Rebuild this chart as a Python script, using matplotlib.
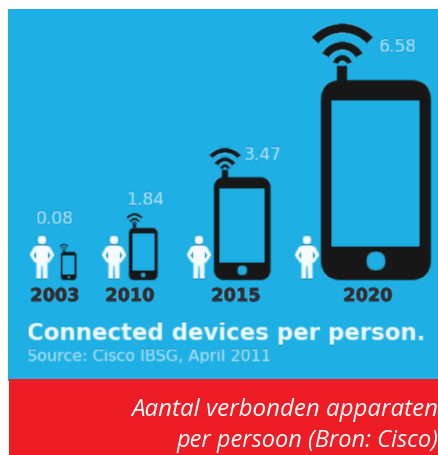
import numpy as np
import matplotlib
matplotlib.use("Agg")
import matplotlib.pyplot as plt
import matplotlib.patheffects as pe
from matplotlib.patches import Rectangle, FancyBboxPatch, Wedge, Circle, Polygon

# Connected devices per person (Cisco IBSG, April 2011)
years = ["2003", "2010", "2015", "2020"]
devices_per_person = [0.08, 1.84, 3.47, 6.58]

caption_lines = ["Aantal verbonden apparaten", "per persoon (Bron: Cisco)"]
title = "Connected devices per person."
source = "Source: Cisco IBSG, April 2011"

BLUE = "#1eb0e4"
BLACK = "#181718"
RED = "#ee1c25"
PALE = "#b4e2f4"
DARK = "#2e2f35"
WHITE_ISH = "#f6fcfe"

# Layout, in pixels
phone_left = [61, 129, 214, 321]
person_x = [42, 114, 199, 307]
year_x = [55, 130, 236, 368]
value_pos = [(55, 219), (145, 200), (263, 155), (398, 47)]
caption_sizes = [17.4, 17.0]
GROUND = 281


def soften(sigma):
    radius = int(3 * sigma) + 1
    k = np.exp(-0.5 * (np.arange(-radius, radius + 1) / sigma) ** 2)
    k /= k.sum()

    def blur(img, dpi):
        pad = radius + 1
        out = np.pad(img, ((pad, pad), (pad, pad), (0, 0)))
        for axis in (0, 1):
            out = np.apply_along_axis(lambda v: np.convolve(v, k, mode="same"), axis, out)
        return out, -pad, -pad

    return blur


fig = plt.figure(figsize=(4.39, 4.56), dpi=100, facecolor="white")
ax = fig.add_axes([0, 0, 1, 1])
ax.set_xlim(0, 439)
ax.set_ylim(456, 0)
ax.axis("off")

ax.add_patch(Rectangle((8, 10), 431, 372, color=BLUE, lw=0, zorder=1))
ax.add_patch(Rectangle((9, 380), 430, 76, color=RED, lw=0, zorder=2))


def phone_height(value):
    return max(28, 31.2 * value - 5.5)


def add(artist, sigma=0.7):
    ax.add_patch(artist)
    artist.set_agg_filter(soften(sigma))


def draw_phone(left, value):
    h = phone_height(value)
    w = 0.55 * h
    top = GROUND - h
    r = 0.18 * w
    add(FancyBboxPatch((left + r, top + r), w - 2 * r, h - 2 * r,
                       boxstyle=f"round,pad={r},rounding_size={r}",
                       fc=BLACK, ec="none", zorder=4))
    add(Rectangle((left + 0.095 * w, top + 0.1 * h), 0.81 * w, 0.735 * h,
                  fc=BLUE, ec="none", zorder=5))
    add(Circle((left + 0.5 * w, top + 0.905 * h), 0.088 * w, fc=BLUE, ec="none", zorder=5))

    # antenna with three signal arcs
    cx = left + 0.195 * w
    s = w / 110
    add(Rectangle((cx - 5 * s, top - 14 * s), 10 * s, 15 * s, fc=BLACK, ec="none", zorder=4))
    cy = top - 15 * s
    for r_out, thick, half in [(41.5, 9, 48), (23.5, 8, 60), (10, 5.5, 75)]:
        add(Wedge((cx, cy), r_out * s, 270 - half, 270 + half, width=thick * s,
                  fc=BLACK, ec="none", zorder=4))


def draw_person(x):
    head_y = GROUND - 41
    body = [(-4, 6), (4, 6), (8, 8), (12.5, 16), (7.5, 23), (5.5, 24), (5.5, 40), (1, 40),
            (0.6, 27), (-0.6, 27), (-1, 40), (-5.5, 40), (-5.5, 24), (-7.5, 23), (-12.5, 16),
            (-8, 8)]
    pts = [(x + dx, head_y + dy) for dx, dy in body]
    add(Circle((x, head_y + 1), 4.4, fc=WHITE_ISH, ec="none", zorder=4))
    add(Polygon(pts, closed=True, fc=WHITE_ISH, ec="none", zorder=4))
    for sign in (-1, 1):
        gap = [(x + sign * 6, head_y + 12.5), (x + sign * 8.5, head_y + 16.5),
               (x + sign * 6, head_y + 20)]
        add(Polygon(gap, closed=True, fc=BLUE, ec="none", zorder=5), 0.5)


for left, px, value in zip(phone_left, person_x, devices_per_person):
    draw_person(px)
    draw_phone(left, value)

for x, year in zip(year_x, years):
    t = ax.text(x, 297, year, ha="center", va="center", fontsize=12.7,
                fontweight="bold", color=DARK, zorder=6,
                path_effects=[pe.withStroke(linewidth=0.7, foreground=DARK)])
    t.set_agg_filter(soften(0.5))

for (x, y), value in zip(value_pos, devices_per_person):
    t = ax.text(x, y, f"{value:.2f}", ha="center", va="center", fontsize=12.3,
                color=PALE, zorder=6)
    t.set_agg_filter(soften(0.5))

t = ax.text(27, 340, title, ha="left", va="baseline", fontsize=16.5,
            fontweight="bold", color="#eef9fd", zorder=6)
t.set_agg_filter(soften(0.6))
t = ax.text(27, 361, source, ha="left", va="baseline", fontsize=11.5,
            color=PALE, zorder=6)
t.set_agg_filter(soften(0.6))

for y, line, size in zip((416, 447), caption_lines, caption_sizes):
    ax.text(438, y, line, ha="right", va="baseline", fontsize=size,
            fontstyle="italic", family="Open Sans", color="white", zorder=6)

fig.savefig("out.png", dpi=100, facecolor="white")
